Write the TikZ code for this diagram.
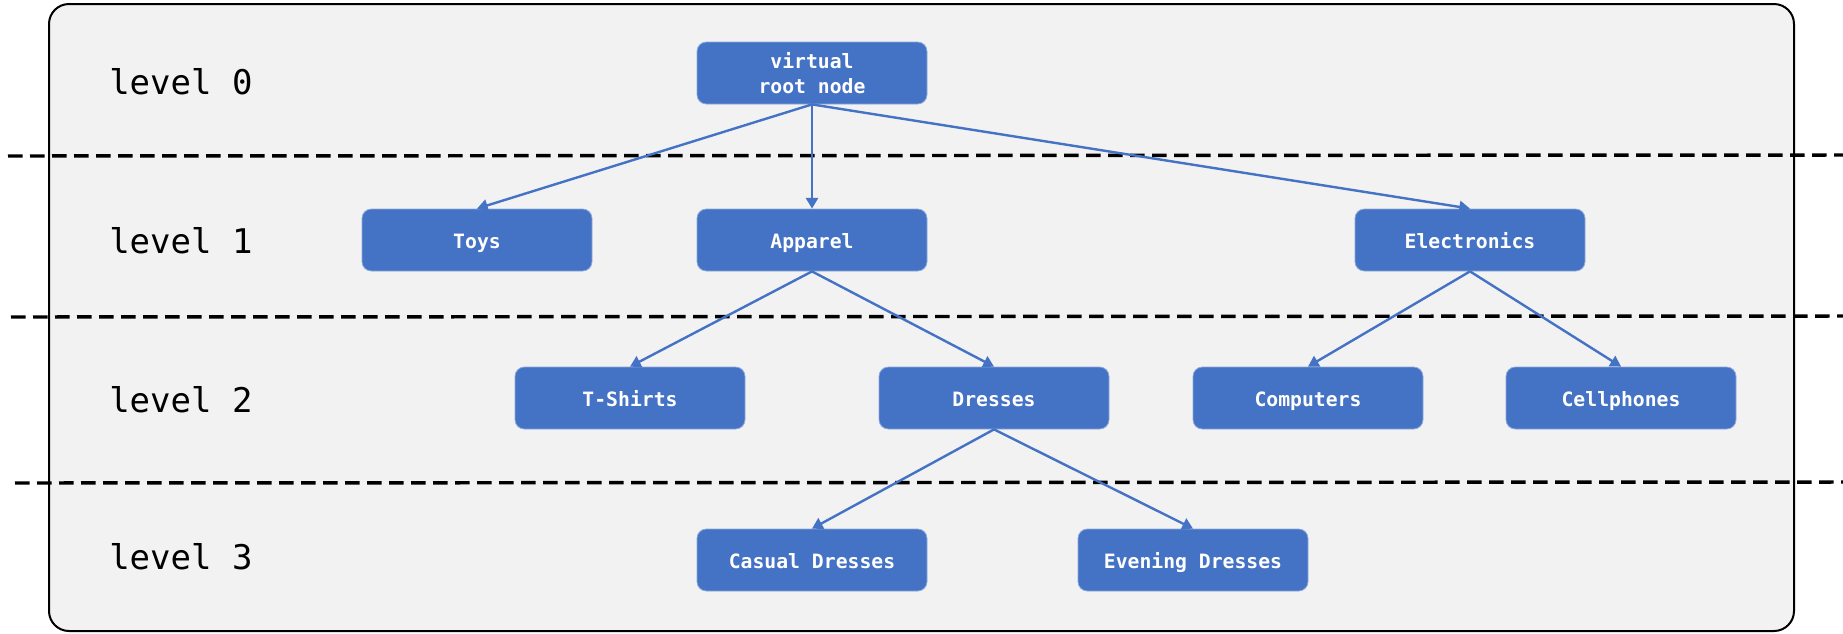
\documentclass[tikz,border=0pt]{standalone}
\usepackage{fontspec}
\newfontfamily\monofont{DejaVu Sans Mono}
\usetikzlibrary{arrows.meta}
\definecolor{nodeblue}{HTML}{4472C4}
\definecolor{nodeedge}{HTML}{8FAADC}
\definecolor{bggray}{HTML}{F2F2F2}
\begin{document}
\begin{tikzpicture}[x=0.75pt,y=-0.75pt,
  box/.style={rounded corners=7pt, fill=nodeblue, draw=nodeedge, line width=0.6pt,
    minimum width=172.5pt, minimum height=46.5pt, inner sep=0pt, text=white,
    text height=13pt, text depth=0.5pt,
    font=\monofont\bfseries\fontsize{14.8}{18.75}\selectfont, align=center},
  lvl/.style={anchor=west, font=\monofont\fontsize{25.5}{30}\selectfont, inner sep=0pt},
  link/.style={draw=nodeblue, line width=1.8pt, -{Triangle[width=9pt,length=8pt]}},
  sep/.style={draw=black, line width=2.6pt, dash pattern=on 11pt off 5.5pt}]
\useasboundingbox (0,0) rectangle (1843,633);
\draw[fill=bggray, line width=1.5pt, rounded corners=15pt] (49,4) rectangle (1794,631);

% separators
\coordinate (s1a) at (8,156);  \coordinate (s1b) at (1843,155);
\coordinate (s2a) at (11,317); \coordinate (s2b) at (1843,316);
\coordinate (s3a) at (15,483); \coordinate (s3b) at (1843,482);
\draw[sep] (s1a) -- (s1b);
\draw[sep] (s2a) -- (s2b);
\draw[sep] (s3a) -- (s3b);

% level labels
\node[lvl] (l0) at (109,82) {level 0};
\node[lvl] (l1) at (109,241) {level 1};
\node[lvl] (l2) at (109,400) {level 2};
\node[lvl] (l3) at (109,557) {level 3};

% nodes
\node[box, text height=, text depth=] (root) at (812,73) {virtual\\root node};
\node[box] (toys) at (477,240) {Toys};
\node[box] (app) at (812,240) {Apparel};
\node[box] (elec) at (1470,240) {Electronics};
\node[box] (tsh) at (630,398) {T-Shirts};
\node[box] (dre) at (994,398) {Dresses};
\node[box] (comp) at (1308,398) {Computers};
\node[box] (cell) at (1621,398) {Cellphones};
\node[box] (cas) at (812,560) {Casual Dresses};
\node[box] (eve) at (1193,560) {Evening Dresses};

% links
\draw[link] (root.south) -- (toys.north);
\draw[link] (root.south) -- (app.north);
\draw[link] (root.south) -- (elec.north);
\draw[link] (app.south) -- (tsh.north);
\draw[link] (app.south) -- (dre.north);
\draw[link] (elec.south) -- (comp.north);
\draw[link] (elec.south) -- (cell.north);
\draw[link] (dre.south) -- (cas.north);
\draw[link] (dre.south) -- (eve.north);
\end{tikzpicture}
\end{document}
